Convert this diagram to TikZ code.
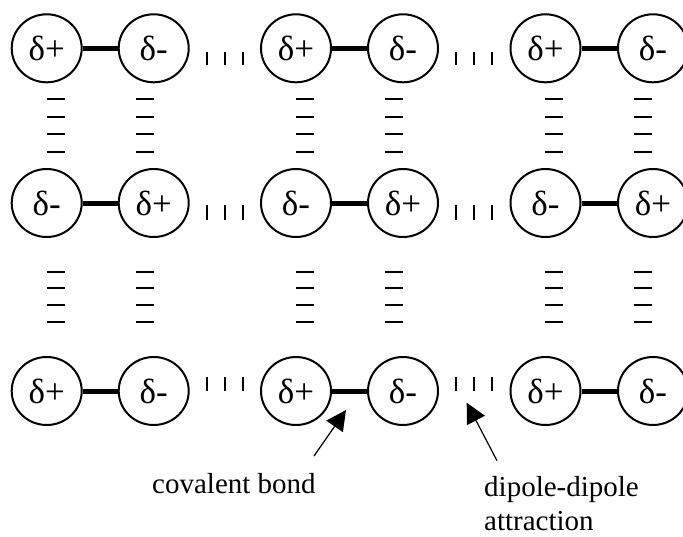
\documentclass[tikz,border=0pt]{standalone}
\usepackage{fontspec}
\setmainfont{Liberation Serif}
\usetikzlibrary{shapes.geometric,arrows.meta}
\begin{document}
\begin{tikzpicture}[x=1pt,y=-1pt,
  atom/.style={draw,line width=2pt,ellipse,minimum width=70pt,minimum height=68pt,inner sep=0pt,font=\fontsize{35}{40}\selectfont},
  bond/.style={line width=5pt},
  tickmark/.style={line width=2.5pt},
  arrowline/.style={line width=1.2pt,-{Triangle[width=20pt,length=20pt]}},
  lbl/.style={font=\fontsize{29}{35}\selectfont,inner sep=0pt}]
\useasboundingbox (0,0) rectangle (683,536);
\clip (0,0) rectangle (683,536);
% atoms
\foreach \row/\y/\s in {1/48.3/0,2/203/1,3/391/0} {
  \foreach \col/\x in {1/46.7,2/153.7,3/296,4/403,5/545.5,6/653} {
    \pgfmathtruncatemacro\sgn{mod(\col+\s,2)}
    \node[atom] (r\row c\col) at (\x,\y) {\ifnum\sgn=1 δ+\else δ-\fi};
  }
}
% covalent bonds
\foreach \row in {1,2,3} {
  \foreach \a/\b in {1/2,3/4,5/6} {
    \draw[bond] (r\row c\a) -- (r\row c\b);
  }
}
% dipole-dipole ticks along rows
\foreach \ya/\yb in {52/65,205/220,377/391} {
  \foreach \x in {207,225,243,456,474,492} {
    \draw[tickmark] (\x,\ya) -- (\x,\yb);
  }
}
% dipole-dipole dashes between rows
\foreach \y in {99,117,134,152,272,288,305,322} {
  \foreach \xa/\xb in {46.7/65,136/154,296/314,385/403,545/563,634/652} {
    \draw[tickmark] (\xa,\y) -- (\xb,\y);
  }
}
% arrows
\coordinate (covTail) at (314,456);
\coordinate (covTip) at (346,410);
\coordinate (dipTail) at (497,460.7);
\coordinate (dipTip) at (466.7,402.7);
\draw[arrowline] (covTail) -- (covTip);
\draw[arrowline] (dipTail) -- (dipTip);
% labels
\node[lbl,anchor=base west] (covLbl) at (152,493.3) {covalent bond};
\node[lbl,anchor=base west] (dipLbl) at (484,496.5) {dipole-dipole};
\node[lbl,anchor=base west] (attLbl) at (484,530.5) {attraction};
\end{tikzpicture}
\end{document}
